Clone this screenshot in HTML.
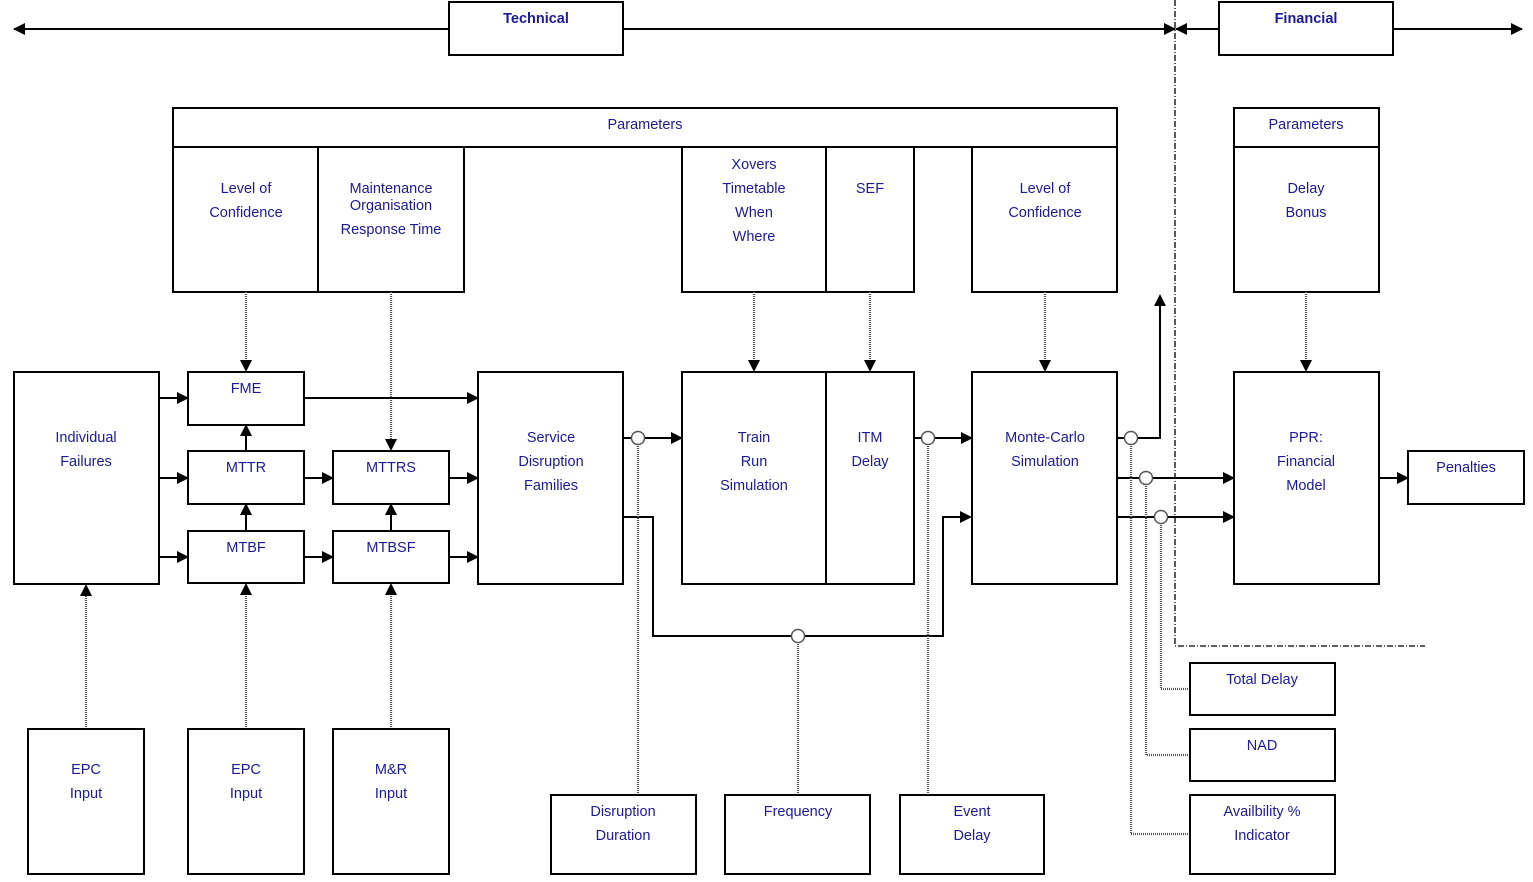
<!DOCTYPE html>
<html><head><meta charset="utf-8"><style>
html,body{margin:0;padding:0;background:#fff}
svg{display:block}
text{font-family:"Liberation Sans",sans-serif;font-size:14.5px;fill:#1a1a9a;text-anchor:middle;dominant-baseline:middle}
.b{font-weight:bold}
.r{fill:#fff;stroke:#000;stroke-width:2}
.l{stroke:#000;stroke-width:2;fill:none}
.d{stroke:#555;stroke-width:2.2;stroke-dasharray:1 1;fill:none}
.c{fill:#fff;stroke:#555;stroke-width:1.5}
</style></head><body>
<svg width="1533" height="882" viewBox="0 0 1533 882">
<defs><marker id="a" markerWidth="12" markerHeight="12" refX="11" refY="6" orient="auto" markerUnits="userSpaceOnUse"><path d="M0,0 L12,6 L0,12 z" fill="#000"/></marker></defs>
<line class="l" x1="24" y1="29" x2="1175" y2="29" marker-end="url(#a)"/>
<line class="l" x1="440" y1="29" x2="14" y2="29" marker-end="url(#a)"/>
<line class="l" x1="1185" y1="29" x2="1522" y2="29" marker-end="url(#a)"/>
<line class="l" x1="1230" y1="29" x2="1176" y2="29" marker-end="url(#a)"/>
<rect class="r" x="449" y="2" width="174" height="53"/><text class="b" x="536" y="19">Technical</text>
<rect class="r" x="1219" y="2" width="174" height="53"/><text class="b" x="1306" y="19">Financial</text>
<path d="M1175,0 V646 H1425" fill="none" stroke="#000" stroke-width="1.3" stroke-dasharray="6 2 1 2"/>
<rect class="r" x="173" y="108" width="944" height="39"/><text x="645" y="125">Parameters</text>
<rect class="r" x="173" y="147" width="145" height="145"/><text x="246" y="189">Level of</text><text x="246" y="213">Confidence</text>
<rect class="r" x="318" y="147" width="146" height="145"/><text x="391" y="189">Maintenance</text><text x="391" y="206">Organisation</text><text x="391" y="230">Response Time</text>
<rect class="r" x="682" y="147" width="144" height="145"/><text x="754" y="165">Xovers</text><text x="754" y="189">Timetable</text><text x="754" y="213">When</text><text x="754" y="237">Where</text>
<rect class="r" x="826" y="147" width="88" height="145"/><text x="870" y="189">SEF</text>
<rect class="r" x="972" y="147" width="145" height="145"/><text x="1045" y="189">Level of</text><text x="1045" y="213">Confidence</text>
<rect class="r" x="1234" y="108" width="145" height="39"/><text x="1306" y="125">Parameters</text>
<rect class="r" x="1234" y="147" width="145" height="145"/><text x="1306" y="189">Delay</text><text x="1306" y="213">Bonus</text>
<line class="d" x1="246" y1="292" x2="246" y2="362"/><path d="M240,360 L252,360 L246,372z"/>
<line class="d" x1="391" y1="292" x2="391" y2="441"/><path d="M385,439 L397,439 L391,451z"/>
<line class="d" x1="754" y1="292" x2="754" y2="362"/><path d="M748,360 L760,360 L754,372z"/>
<line class="d" x1="870" y1="292" x2="870" y2="362"/><path d="M864,360 L876,360 L870,372z"/>
<line class="d" x1="1045" y1="292" x2="1045" y2="362"/><path d="M1039,360 L1051,360 L1045,372z"/>
<line class="d" x1="1306" y1="292" x2="1306" y2="362"/><path d="M1300,360 L1312,360 L1306,372z"/>
<rect class="r" x="14" y="372" width="145" height="212"/><text x="86" y="438">Individual</text><text x="86" y="462">Failures</text>
<rect class="r" x="188" y="372" width="116" height="53"/><text x="246" y="389">FME</text>
<rect class="r" x="188" y="451" width="116" height="53"/><text x="246" y="468">MTTR</text>
<rect class="r" x="188" y="531" width="116" height="52"/><text x="246" y="548">MTBF</text>
<rect class="r" x="333" y="451" width="116" height="53"/><text x="391" y="468">MTTRS</text>
<rect class="r" x="333" y="531" width="116" height="52"/><text x="391" y="548">MTBSF</text>
<rect class="r" x="478" y="372" width="145" height="212"/><text x="551" y="438">Service</text><text x="551" y="462">Disruption</text><text x="551" y="486">Families</text>
<rect class="r" x="682" y="372" width="144" height="212"/><text x="754" y="438">Train</text><text x="754" y="462">Run</text><text x="754" y="486">Simulation</text>
<rect class="r" x="826" y="372" width="88" height="212"/><text x="870" y="438">ITM</text><text x="870" y="462">Delay</text>
<rect class="r" x="972" y="372" width="145" height="212"/><text x="1045" y="438">Monte-Carlo</text><text x="1045" y="462">Simulation</text>
<rect class="r" x="1234" y="372" width="145" height="212"/><text x="1306" y="438">PPR:</text><text x="1306" y="462">Financial</text><text x="1306" y="486">Model</text>
<rect class="r" x="1408" y="451" width="116" height="53"/><text x="1466" y="468">Penalties</text>
<line class="l" x1="159" y1="398" x2="188" y2="398" marker-end="url(#a)"/>
<line class="l" x1="159" y1="478" x2="188" y2="478" marker-end="url(#a)"/>
<line class="l" x1="159" y1="557" x2="188" y2="557" marker-end="url(#a)"/>
<line class="l" x1="304" y1="398" x2="478" y2="398" marker-end="url(#a)"/>
<line class="l" x1="304" y1="478" x2="333" y2="478" marker-end="url(#a)"/>
<line class="l" x1="304" y1="557" x2="333" y2="557" marker-end="url(#a)"/>
<line class="l" x1="449" y1="478" x2="478" y2="478" marker-end="url(#a)"/>
<line class="l" x1="449" y1="557" x2="478" y2="557" marker-end="url(#a)"/>
<line class="l" x1="246" y1="451" x2="246" y2="425" marker-end="url(#a)"/>
<line class="l" x1="246" y1="531" x2="246" y2="504" marker-end="url(#a)"/>
<line class="l" x1="391" y1="531" x2="391" y2="504" marker-end="url(#a)"/>
<line class="l" x1="623" y1="438" x2="682" y2="438" marker-end="url(#a)"/>
<line class="l" x1="914" y1="438" x2="972" y2="438" marker-end="url(#a)"/>
<path class="l" d="M623,517 H653 V636 H943 V517 H962"/><path d="M960,511 L972,517 L960,523z"/>
<path class="l" d="M1117,438 H1160 V305"/><path d="M1154,306 L1160,294 L1166,306z"/>
<line class="l" x1="1117" y1="478" x2="1234" y2="478" marker-end="url(#a)"/>
<line class="l" x1="1117" y1="517" x2="1234" y2="517" marker-end="url(#a)"/>
<line class="l" x1="1379" y1="478" x2="1408" y2="478" marker-end="url(#a)"/>
<line class="d" x1="86" y1="729" x2="86" y2="595"/><path d="M80,596 L92,596 L86,584z"/>
<line class="d" x1="246" y1="729" x2="246" y2="594"/><path d="M240,595 L252,595 L246,583z"/>
<line class="d" x1="391" y1="729" x2="391" y2="594"/><path d="M385,595 L397,595 L391,583z"/>
<rect class="r" x="28" y="729" width="116" height="145"/><text x="86" y="770">EPC</text><text x="86" y="794">Input</text>
<rect class="r" x="188" y="729" width="116" height="145"/><text x="246" y="770">EPC</text><text x="246" y="794">Input</text>
<rect class="r" x="333" y="729" width="116" height="145"/><text x="391" y="770">M&amp;R</text><text x="391" y="794">Input</text>
<line class="d" x1="638" y1="444" x2="638" y2="795"/>
<line class="d" x1="798" y1="642" x2="798" y2="795"/>
<line class="d" x1="928" y1="444" x2="928" y2="795"/>
<path class="d" d="M1131,444 V834 H1190"/>
<path class="d" d="M1146,484 V755 H1190"/>
<path class="d" d="M1161,523 V689 H1190"/>
<circle class="c" cx="638" cy="438" r="6.5"/>
<circle class="c" cx="798" cy="636" r="6.5"/>
<circle class="c" cx="928" cy="438" r="6.5"/>
<circle class="c" cx="1131" cy="438" r="6.5"/>
<circle class="c" cx="1146" cy="478" r="6.5"/>
<circle class="c" cx="1161" cy="517" r="6.5"/>
<rect class="r" x="551" y="795" width="145" height="79"/><text x="623" y="812">Disruption</text><text x="623" y="836">Duration</text>
<rect class="r" x="725" y="795" width="145" height="79"/><text x="798" y="812">Frequency</text>
<rect class="r" x="900" y="795" width="144" height="79"/><text x="972" y="812">Event</text><text x="972" y="836">Delay</text>
<rect class="r" x="1190" y="663" width="145" height="52"/><text x="1262" y="680">Total Delay</text>
<rect class="r" x="1190" y="729" width="145" height="52"/><text x="1262" y="746">NAD</text>
<rect class="r" x="1190" y="795" width="145" height="79"/><text x="1262" y="812">Availbility %</text><text x="1262" y="836">Indicator</text>
</svg>
</body></html>
